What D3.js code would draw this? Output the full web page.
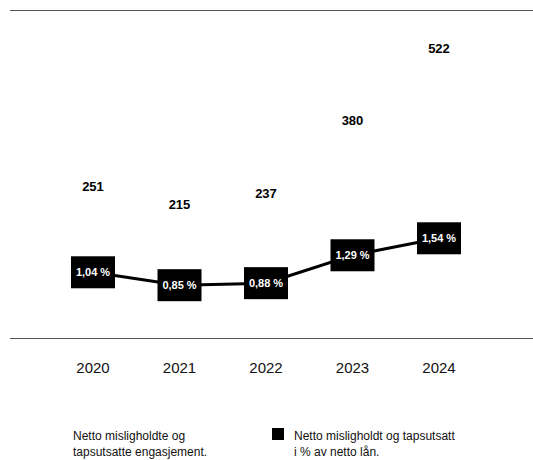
<!DOCTYPE html>
<html>
<head>
<meta charset="utf-8">
<script src="https://cdn.jsdelivr.net/npm/d3@7"></script>
<style>
  body { margin: 0; background: #fff; }
  svg { font-family: "Liberation Sans", Arial, sans-serif; }
</style>
</head>
<body>
<svg width="533" height="460"></svg>
<script>
const years = ["2020", "2021", "2022", "2023", "2024"];
const exposures = [251, 215, 237, 380, 522];
const ratios = [1.04, 0.85, 0.88, 1.29, 1.54];
const ratioLabels = ["1,04 %", "0,85 %", "0,88 %", "1,29 %", "1,54 %"];

const svg = d3.select("svg");

const x = d3.scalePoint().domain(years).range([93, 439]);
const y = d3.scaleLinear().domain([0, 600]).range([321, 16.8]);
const yPct = d3.scaleLinear().domain([0, 2]).range([343, 207]);

// frame lines
svg.append("line").attr("x1", 10).attr("x2", 533).attr("y1", 10.5).attr("y2", 10.5)
  .attr("stroke", "#555").attr("stroke-width", 1);
svg.append("line").attr("x1", 10).attr("x2", 533).attr("y1", 338.5).attr("y2", 338.5)
  .attr("stroke", "#555").attr("stroke-width", 1);

const rows = years.map((yr, i) => ({ yr, v: exposures[i], p: ratios[i], lab: ratioLabels[i] }));

// bars are white in the original, only the labels show
svg.selectAll("rect.bar")
  .data(rows)
  .join("rect")
  .attr("class", "bar")
  .attr("x", d => x(d.yr) - 20)
  .attr("width", 40)
  .attr("y", d => y(d.v))
  .attr("height", d => y(0) - y(d.v))
  .attr("fill", "#fff");

svg.selectAll("text.val")
  .data(rows)
  .join("text")
  .attr("class", "val")
  .attr("x", d => x(d.yr))
  .attr("y", d => y(d.v) - 3)
  .attr("text-anchor", "middle")
  .attr("font-size", 13)
  .attr("font-weight", "bold")
  .text(d => d.v);

// year axis labels
svg.selectAll("text.year")
  .data(years)
  .join("text")
  .attr("class", "year")
  .attr("x", d => x(d))
  .attr("y", 373)
  .attr("text-anchor", "middle")
  .attr("font-size", 15)
  .attr("fill", "#111")
  .text(d => d);

// ratio line
svg.append("path")
  .datum(rows)
  .attr("fill", "none")
  .attr("stroke", "#000")
  .attr("stroke-width", 3)
  .attr("d", d3.line().x(d => x(d.yr)).y(d => yPct(d.p)));

svg.selectAll("rect.box")
  .data(rows)
  .join("rect")
  .attr("class", "box")
  .attr("x", d => x(d.yr) - 22)
  .attr("y", d => yPct(d.p) - 16)
  .attr("width", 44)
  .attr("height", 32)
  .attr("fill", "#000");

svg.selectAll("text.pct")
  .data(rows)
  .join("text")
  .attr("class", "pct")
  .attr("x", d => x(d.yr))
  .attr("y", d => yPct(d.p) + 4)
  .attr("text-anchor", "middle")
  .attr("font-size", 11)
  .attr("font-weight", "bold")
  .attr("fill", "#fff")
  .text(d => d.lab);

// legend
const legend = svg.append("g").attr("font-size", 12).attr("fill", "#111");
legend.append("text").attr("x", 73).attr("y", 440).text("Netto misligholdte og");
legend.append("text").attr("x", 73).attr("y", 456).text("tapsutsatte engasjement.");
legend.append("rect").attr("x", 272).attr("y", 428).attr("width", 12).attr("height", 12).attr("fill", "#000");
legend.append("text").attr("x", 294).attr("y", 440).text("Netto misligholdt og tapsutsatt");
legend.append("text").attr("x", 294).attr("y", 456).text("i % av netto lån.");
</script>
</body>
</html>
